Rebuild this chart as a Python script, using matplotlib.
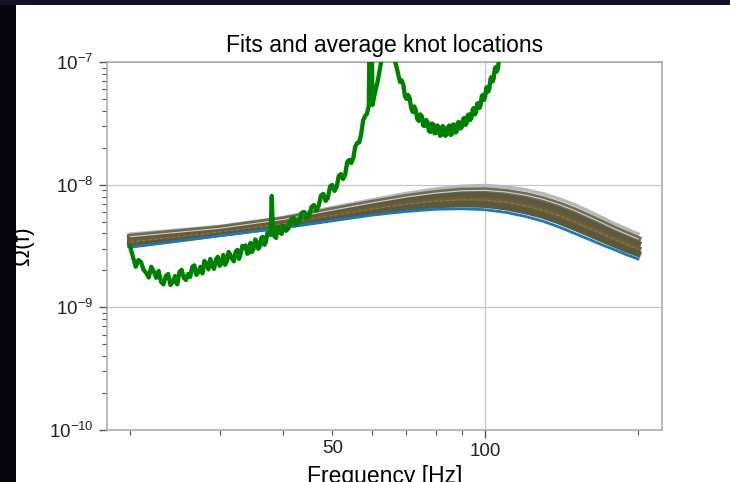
import matplotlib
matplotlib.use("Agg")
import matplotlib.pyplot as plt
from matplotlib.patches import Rectangle

plt.rcParams['font.family'] = ['Liberation Sans', 'DejaVu Sans']

# ---------------- data ----------------
green_freq = [
    20, 20.25, 20.5, 20.75, 21, 21.25, 21.5, 21.75,
    22, 22.25, 22.5, 22.75, 23, 23.25, 23.5, 23.75,
    24, 24.25, 24.5, 24.75, 25, 25.25, 25.5, 25.75,
    26, 26.25, 26.5, 26.75, 27, 27.25, 27.5, 27.75,
    28, 28.25, 28.5, 28.75, 29, 29.25, 29.5, 29.75,
    30, 30.25, 30.5, 30.75, 31, 31.25, 31.5, 31.75,
    32, 32.25, 32.5, 32.75, 33, 33.25, 33.5, 33.75,
    34, 34.25, 34.5, 34.75, 35, 35.25, 35.5, 35.75,
    36, 36.25, 36.5, 36.75, 37, 37.25, 37.5, 37.8,
    38, 38.2, 38.5, 38.75, 39, 39.25, 39.5, 39.75,
    40, 40.5, 41, 41.5, 42, 42.5, 43, 43.5,
    44, 44.5, 45, 45.5, 46, 46.5, 47, 47.5,
    48, 48.5, 49, 49.5, 50, 50.5, 51, 51.5,
    52, 52.5, 53, 53.5, 54, 54.5, 55, 55.5,
    56, 56.5, 57, 57.5, 58, 58.5, 59, 59.5,
    60, 60.5, 61, 61.5, 62, 62.5, 63, 64,
    65, 66, 66.5, 67, 67.5, 68, 68.5, 69,
    69.5, 70, 70.5, 71, 71.5, 72, 72.5, 73,
    73.5, 74, 74.5, 75, 75.5, 76, 76.5, 77,
    77.5, 78, 78.5, 79, 79.5, 80, 80.5, 81,
    81.5, 82, 82.5, 83, 83.5, 84, 84.5, 85,
    85.5, 86, 86.5, 87, 87.5, 88, 88.5, 89,
    89.5, 90, 90.5, 91, 91.5, 92, 92.5, 93,
    93.5, 94, 94.5, 95, 95.5, 96, 96.5, 97,
    97.5, 98, 98.5, 99, 99.5, 100, 100.5, 101,
    101.5, 102, 102.5, 103, 103.5, 104, 104.5, 105,
    105.5, 106, 106.5, 107, 108, 110]
green_omega = [
    3.11e-9, 2.58e-9, 2.14e-9, 2.43e-9, 2.34e-9, 2.02e-9, 1.91e-9, 1.75e-9,
    2.14e-9, 1.96e-9, 1.74e-9, 1.98e-9, 1.61e-9, 1.54e-9, 1.80e-9, 1.87e-9,
    1.52e-9, 1.60e-9, 1.80e-9, 1.54e-9, 1.94e-9, 2.02e-9, 1.74e-9, 1.67e-9,
    1.87e-9, 1.77e-9, 2.14e-9, 2.20e-9, 1.84e-9, 1.94e-9, 2.14e-9, 1.89e-9,
    2.39e-9, 2.26e-9, 2.04e-9, 2.48e-9, 2.18e-9, 2.06e-9, 2.46e-9, 2.58e-9,
    2.18e-9, 2.28e-9, 2.67e-9, 2.22e-9, 2.37e-9, 2.83e-9, 2.67e-9, 2.48e-9,
    2.37e-9, 2.83e-9, 2.94e-9, 2.48e-9, 2.73e-9, 3.17e-9, 3.08e-9, 3.20e-9,
    2.73e-9, 2.78e-9, 3.35e-9, 2.83e-9, 3.02e-9, 3.58e-9, 3.41e-9, 2.99e-9,
    3.17e-9, 3.68e-9, 3.75e-9, 3.23e-9, 3.41e-9, 4.04e-9, 3.97e-9, 3.89e-9,
    8.09e-9, 3.97e-9, 3.78e-9, 3.68e-9, 4.44e-9, 4.52e-9, 4.04e-9, 3.97e-9,
    4.61e-9, 4.20e-9, 4.40e-9, 5.25e-9, 5.36e-9, 4.70e-9, 5.01e-9, 5.88e-9,
    5.99e-9, 5.31e-9, 5.56e-9, 6.58e-9, 6.83e-9, 6.16e-9, 6.71e-9, 8.17e-9,
    8.40e-9, 7.37e-9, 7.79e-9, 9.67e-9, 9.95e-9, 8.89e-9, 9.58e-9, 1.18e-8,
    1.22e-8, 1.11e-8, 1.20e-8, 1.53e-8, 1.59e-8, 1.50e-8, 1.65e-8, 2.05e-8,
    2.19e-8, 2.21e-8, 2.59e-8, 3.34e-8, 3.63e-8, 3.77e-8, 4.38e-8, 1.0e-6,
    4.46e-8, 5.29e-8, 6.14e-8, 7.14e-8, 8.61e-8, 1.04e-7, 1.38e-7, 3.0e-7,
    6.0e-7, 2.5e-7, 1.0e-7, 8.94e-8, 7.76e-8, 6.87e-8, 7.07e-8, 6.50e-8,
    5.29e-8, 5.00e-8, 5.39e-8, 5.09e-8, 4.22e-8, 3.91e-8, 4.34e-8, 4.06e-8,
    3.43e-8, 3.31e-8, 3.74e-8, 3.63e-8, 3.04e-8, 3.01e-8, 3.37e-8, 3.24e-8,
    2.74e-8, 2.69e-8, 3.15e-8, 3.12e-8, 2.62e-8, 2.64e-8, 3.04e-8, 2.95e-8,
    2.50e-8, 2.54e-8, 3.01e-8, 2.90e-8, 2.50e-8, 2.59e-8, 2.95e-8, 3.04e-8,
    2.54e-8, 2.59e-8, 3.10e-8, 3.07e-8, 2.66e-8, 2.74e-8, 3.24e-8, 3.21e-8,
    2.87e-8, 2.95e-8, 3.43e-8, 3.50e-8, 3.07e-8, 3.18e-8, 3.70e-8, 3.74e-8,
    3.37e-8, 3.50e-8, 4.10e-8, 4.22e-8, 3.74e-8, 3.91e-8, 4.59e-8, 4.63e-8,
    4.22e-8, 4.46e-8, 5.29e-8, 5.39e-8, 4.90e-8, 5.19e-8, 6.14e-8, 6.26e-8,
    5.75e-8, 6.14e-8, 7.34e-8, 7.55e-8, 6.94e-8, 7.41e-8, 8.85e-8, 9.11e-8,
    8.37e-8, 8.94e-8, 1.05e-7, 1.04e-7, 1.14e-7, 1.51e-7]

fit_freq = [20, 25, 30, 40, 50, 60, 70, 80, 90, 100,
            110, 120, 130, 140, 150, 160, 170, 180, 190, 200]
fit_a = [3.95e-9, 4.27e-9, 4.57e-9, 5.40e-9, 6.50e-9, 7.53e-9, 8.48e-9, 9.23e-9, 9.71e-9, 9.85e-9,
         9.58e-9, 9.09e-9, 8.43e-9, 7.65e-9, 6.86e-9, 6.07e-9, 5.38e-9, 4.79e-9, 4.35e-9, 3.97e-9]
fit_b = [3.76e-9, 4.10e-9, 4.41e-9, 5.20e-9, 6.19e-9, 7.11e-9, 7.93e-9, 8.54e-9, 8.92e-9, 8.99e-9,
         8.71e-9, 8.23e-9, 7.60e-9, 6.88e-9, 6.16e-9, 5.47e-9, 4.87e-9, 4.35e-9, 3.95e-9, 3.61e-9]
fit_c = [3.58e-9, 3.94e-9, 4.26e-9, 5.00e-9, 5.88e-9, 6.72e-9, 7.41e-9, 7.93e-9, 8.20e-9, 8.21e-9,
         7.91e-9, 7.43e-9, 6.86e-9, 6.19e-9, 5.54e-9, 4.92e-9, 4.39e-9, 3.94e-9, 3.58e-9, 3.29e-9]
fit_d = [3.41e-9, 3.77e-9, 4.12e-9, 4.80e-9, 5.60e-9, 6.34e-9, 6.92e-9, 7.34e-9, 7.53e-9, 7.49e-9,
         7.19e-9, 6.73e-9, 6.19e-9, 5.57e-9, 4.97e-9, 4.43e-9, 3.97e-9, 3.57e-9, 3.26e-9, 2.99e-9]
fit_e = [3.24e-9, 3.62e-9, 3.97e-9, 4.62e-9, 5.32e-9, 5.99e-9, 6.47e-9, 6.81e-9, 6.92e-9, 6.85e-9,
         6.53e-9, 6.08e-9, 5.58e-9, 5.01e-9, 4.46e-9, 3.99e-9, 3.58e-9, 3.24e-9, 2.95e-9, 2.73e-9]
fit_avg = [3.09e-9, 3.47e-9, 3.83e-9, 4.44e-9, 5.07e-9, 5.65e-9, 6.05e-9, 6.30e-9, 6.36e-9, 6.25e-9,
           5.94e-9, 5.51e-9, 5.03e-9, 4.51e-9, 4.01e-9, 3.59e-9, 3.23e-9, 2.94e-9, 2.68e-9, 2.48e-9]

x_major = [100]
x_major_labels = ['100']
x_minor = [20, 30, 40, 50, 60, 70, 80, 90, 200]
x_minor_labels = ['', '', '', '50', '', '', '', '', '']

# ---------------- figure ----------------
fig = plt.figure(figsize=(7.3, 4.82), dpi=100)
fig.patch.set_facecolor('white')
ax = fig.add_axes([107/730, 1-430/482, 555/730, 368/482])

ax.plot(fit_freq, fit_a, color='#b8b8b8', lw=2.5, zorder=2)
ax.plot(fit_freq, fit_b, color='#6e6c55', lw=4.5, zorder=2)
ax.plot(fit_freq, fit_c, color='#5c5940', lw=4.5, zorder=2)
ax.plot(fit_freq, fit_d, color='#6a5e3a', lw=4.5, zorder=2)
ax.plot(fit_freq, fit_e, color='#58593e', lw=4.5, zorder=2)
ax.plot(fit_freq, fit_b, color='#d0d0d0', lw=0.8, zorder=2.1)
ax.plot(fit_freq, fit_d, color='#a07432', lw=0.8, ls='--', zorder=2.1)
ax.plot(fit_freq, fit_avg, color='#1f77b4', lw=2, zorder=2.2)
ax.plot(green_freq, green_omega, color='#008000', lw=3.1, zorder=3)

ax.set_xscale('log')
ax.set_yscale('log')
ax.set_xlim(18.0, 223.0)
ax.set_ylim(1e-10, 1e-7)

ax.set_xticks(x_major)
ax.set_xticklabels(x_major_labels)
ax.set_xticks(x_minor, minor=True)
ax.set_xticklabels(x_minor_labels, minor=True)

ax.grid(True, which='major', color='#c4c4c4', lw=0.9)
ax.set_axisbelow(True)
for s in ax.spines.values():
    s.set_color('#a8a8a8')
    s.set_linewidth(1.1)
ax.tick_params(which='both', labelsize=13.5, colors='#222222', direction='out')
ax.tick_params(which='major', length=6, width=1, color='#555555')
ax.tick_params(which='minor', length=3.5, width=0.8, color='#555555')

ax.set_title('Fits and average knot locations', fontsize=16.5, pad=7)
ax.set_xlabel('Frequency [Hz]', fontsize=16.5)
ax.xaxis.set_label_coords(0.5, -0.095)
ax.set_ylabel('Ω(f)', fontsize=16.5)
ax.yaxis.set_label_coords(-0.132, 0.5)

# dark slide background edges
fig.add_artist(Rectangle((0, 0), 16/730, 1, transform=fig.transFigure,
                         facecolor='#08050e', edgecolor='none', zorder=10))
fig.add_artist(Rectangle((0, 1-5/482), 1, 5/482, transform=fig.transFigure,
                         facecolor='#160f28', edgecolor='none', zorder=10))

fig.savefig('out.png', dpi=100)
